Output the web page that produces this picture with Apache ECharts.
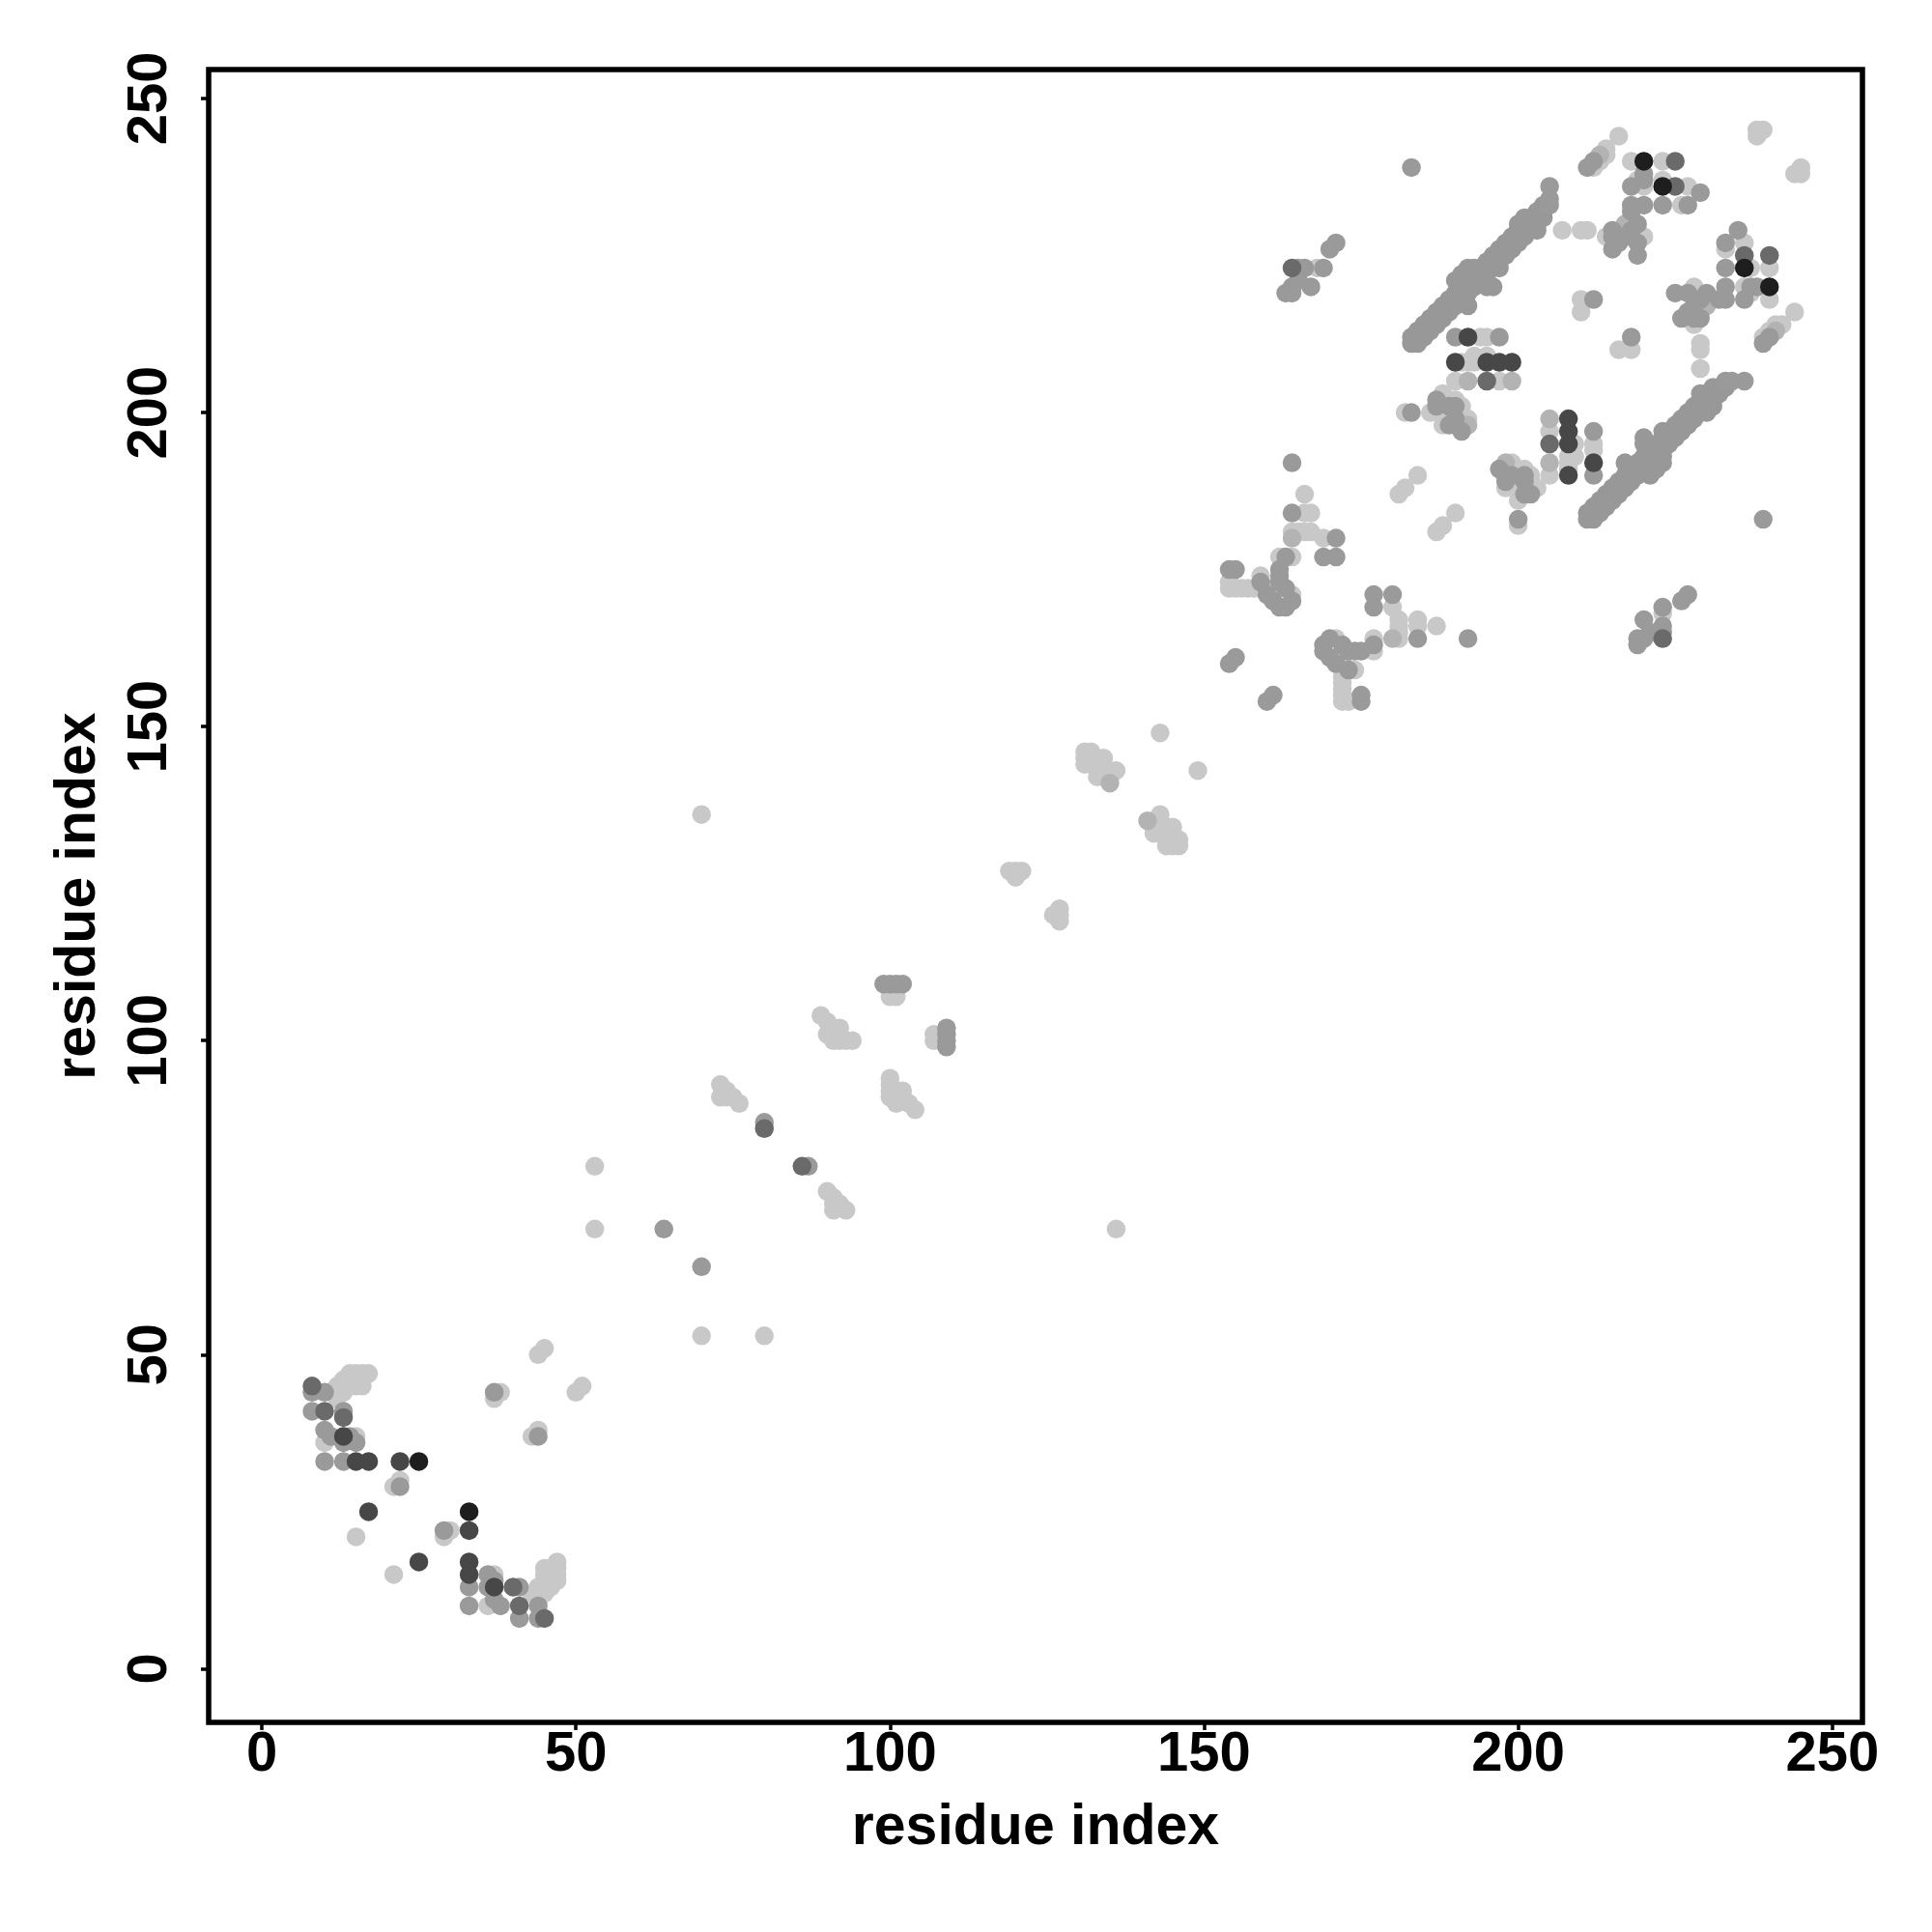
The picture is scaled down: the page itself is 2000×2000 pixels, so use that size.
<!DOCTYPE html>
<html><head><meta charset="utf-8">
<script src="https://cdn.jsdelivr.net/npm/echarts@6/dist/echarts.min.js"></script>
<style>html,body{margin:0;padding:0;background:#fff}#c{width:2000px;height:2000px}</style>
</head><body><div id="c"></div>
<script>
const tickValues = [0, 50, 100, 150, 200, 250];
const axisTitle = 'residue index';

// contacts [i, j] (i < j); each contact is drawn at (i, j) and (j, i)
const contactsLight = [
 [10,36],[11,44],[12,45],[12,43],[13,44],[13,46],[14,45],[14,47],[15,46],[15,47],[16,47],[17,47],[16,45],[15,45],[16,46],
 [15,37],[22,30],[21,29],[15,21],[37,43],[38,44],[44,50],[45,51],
 [53,80],[53,70],[70,136],
 [73,93],[74,92],[75,91],[76,90],[73,91],[74,91],
 [89,104],[90,103],[90,101],[91,102],[92,102],[91,100],[92,100],[93,100],[94,100],
 [100,107],[101,107],[100,108],
 [119,127],[120,127],[121,127],[120,126],
 [143,149],
 [131,146],[132,146],[131,145],[132,145],[133,145],[134,145],[131,144],[132,144],[133,144],[133,143],[134,143],[135,143],[136,143],[133,142],[134,142],[135,142],
 [154,172],[155,172],[156,172],[157,172],[158,172],[159,172],[160,172],[161,172],[154,173],[159,174],[164,171],[164,177],[162,177],
 [166,187],[166,184],[167,184],[164,181],[165,181],[166,181],[167,181],[169,180],[181,187],[182,188],[184,190],[182,200],[186,200],
 [168,223],[207,229],[210,229],[211,229],[214,228],[210,216],[210,218],
 [194,212],[195,212],[191,208],[192,208],[193,208],[193,209],[195,209],[190,205],[197,205],
 [188,203],[189,202],[190,202],[188,200],[190,200],[189,199],[192,199],[188,198],[191,201],
 [216,244],[212,239],[213,240],[214,242],[214,241],[218,240],[223,240],[220,236],[223,237],[227,236],[219,237],[226,233],[218,231],[220,228],
 [238,245],[239,245],[238,244]
];
const contactsMid = [
 [135,141],[164,180],[192,198],[199,205],[192,205],[213,241],[217,230]
];
const contactsGray = [
 [8,44],[8,41],[10,44],[10,38],[10,33],[13,33],[13,41],[14,37],[15,36],[22,29],[13,36],[11,37],[37,44],
 [64,70],[80,87],[99,109],[100,109],[101,109],[102,109],
 [154,175],[155,175],[154,160],[155,161],[160,171],[161,170],[162,169],[163,169],[164,170],[163,172],[162,173],[162,174],[162,175],[159,173],[163,177],
 [164,192],[164,184],[171,180],[169,177],[171,177],[183,200],
 [183,239],[170,226],[171,227],[165,223],[166,223],[169,223],[163,219],[164,219],[164,220],[165,221],[167,220],
 [205,233],[205,234],[205,236],[212,218],[190,212],[197,212],[187,202],[190,201],[190,199],[191,197],[189,198],[190,198],[189,201],[187,201],
 [211,239],[212,240],[218,236],[220,237],[229,235],[218,233],[220,233],[223,233],[227,233],[220,238],
 [218,229],[219,227],[216,227],[215,226],[215,229],[219,225],[217,228],[218,232],[219,230],[215,228]
];
const contactsBand = [
 [183,211],[183,212],
 [184,211],[184,212],[184,213],
 [185,212],[185,213],[185,214],
 [186,213],[186,214],[186,215],
 [187,214],[187,215],[187,216],
 [188,215],[188,216],[188,217],
 [189,216],[189,217],[189,218],
 [190,217],[190,218],[190,219],[190,221],
 [191,218],[191,219],[191,220],[191,222],
 [192,217],[192,219],[192,220],[192,221],[192,223],
 [193,220],[193,221],[193,222],[193,223],
 [194,221],[194,222],[194,223],
 [195,220],[195,222],[195,223],[195,224],
 [196,220],[196,223],[196,224],[196,225],
 [197,223],[197,224],[197,225],[197,226],
 [198,225],[198,226],[198,227],
 [199,226],[199,227],[199,228],
 [200,227],[200,228],[200,229],[200,230],
 [201,228],[201,229],[201,230],[201,231],
 [202,229],[202,230],[202,231],
 [203,229],[203,230],[203,231],[203,232],
 [204,231],[204,232],[204,233]
];
const contactsDarkGray = [
 [8,45],[10,41],[13,40],[80,86],[164,223],[195,205],[225,240],[225,236]
];
const contactsDark = [
 [13,37],[15,33],[17,33],[22,33],[17,25],[192,212],[190,208],[195,208],[197,208],[199,208]
];
const contactsBlack = [
 [25,33],[220,240],[223,236]
];

const groups = [
 {data: contactsLight, color: '#c8c8c8'},
 {data: contactsMid, color: '#b3b3b3'},
 {data: contactsBand, color: '#989898'},
 {data: contactsGray, color: '#9a9a9a'},
 {data: contactsDarkGray, color: '#6a6a6a'},
 {data: contactsDark, color: '#474747'},
 {data: contactsBlack, color: '#1e1e1e'}
];
function bothHalves(list) {
  const out = [];
  list.forEach(function (c) { out.push([c[0], c[1]]); out.push([c[1], c[0]]); });
  return out;
}

const font = 'Liberation Sans, Arial, Helvetica, sans-serif';
const labelStyle = {fontFamily: font, fontWeight: 'bold', fontSize: 58, color: '#000'};
const nameStyle = {fontFamily: font, fontWeight: 'bold', fontSize: 59, color: '#000'};

const chart = echarts.init(document.getElementById('c'), null, {renderer: 'canvas'});
chart.setOption({
  animation: false,
  backgroundColor: '#ffffff',
  grid: {left: 216, right: 72, top: 72, bottom: 217, show: true, borderColor: '#000', borderWidth: 5.5, backgroundColor: 'transparent'},
  xAxis: {
    type: 'value', min: -8.46, max: 254.8,
    name: axisTitle, nameLocation: 'middle', nameGap: 80, nameTextStyle: nameStyle,
    axisLine: {show: false, onZero: false}, splitLine: {show: false},
    axisTick: {show: true, length: 8, lineStyle: {color: '#000', width: 3.5}, customValues: tickValues},
    axisLabel: Object.assign({customValues: tickValues, margin: 5}, labelStyle)
  },
  yAxis: {
    type: 'value', min: -8.54, max: 254.6,
    name: axisTitle, nameLocation: 'middle', nameGap: 105, nameTextStyle: nameStyle,
    axisLine: {show: false, onZero: false}, splitLine: {show: false},
    axisTick: {show: true, length: 8, lineStyle: {color: '#000', width: 3.5}, customValues: tickValues},
    axisLabel: Object.assign({customValues: tickValues, margin: 31, rotate: 90}, labelStyle)
  },
  series: groups.map(function (g) {
    return {
      type: 'scatter', symbol: 'circle', symbolSize: 19.5, silent: true,
      itemStyle: {color: g.color, opacity: 1},
      data: bothHalves(g.data)
    };
  })
});
</script>
</body></html>
